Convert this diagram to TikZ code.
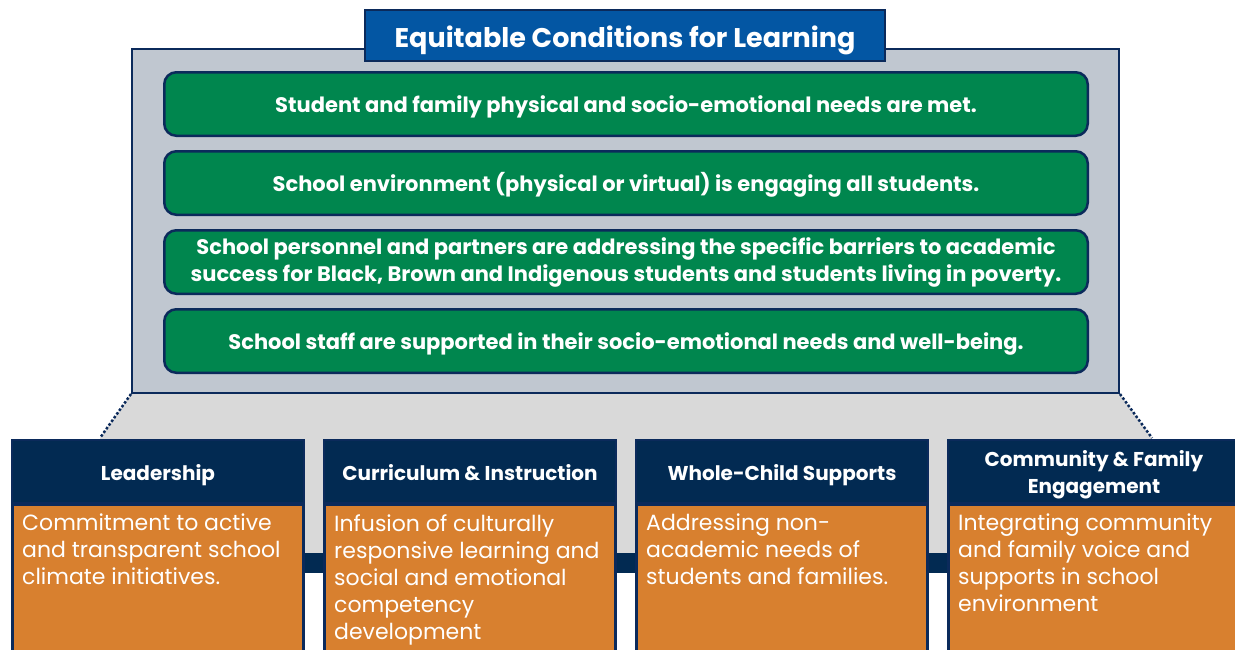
\documentclass[tikz,border=0pt]{standalone}
\usepackage{fontspec}
\setmainfont{Poppins}
\usetikzlibrary{positioning}
\definecolor{navy}{HTML}{0B2A5B}
\definecolor{headnavy}{HTML}{022A52}
\definecolor{titleblue}{HTML}{0356A3}
\definecolor{slate}{HTML}{C0C7D0}
\definecolor{paleg}{HTML}{D9D9D9}
\definecolor{needgreen}{HTML}{00864E}
\definecolor{pillar}{HTML}{D8802F}
\begin{document}
\begin{tikzpicture}[x=1pt,y=-1pt,
  condition/.style={draw=navy,fill=needgreen,line width=2.5pt,rounded corners=12pt,
    minimum width=923.5pt,minimum height=63.5pt,text=white,align=center,
    font=\bfseries\fontsize{21}{27}\selectfont},
  oneline/.style={text height=16pt,text depth=0pt},
  pillarhead/.style={draw=navy,fill=headnavy,line width=2pt,minimum width=292pt,
    minimum height=63pt,text=white,align=center,font=\bfseries\fontsize{20}{27}\selectfont},
  headline/.style={text height=17pt,text depth=0pt},
  pillarbody/.style={draw=navy,fill=pillar,line width=3pt,minimum width=291pt,
    minimum height=160pt},
  pillartext/.style={inner sep=0pt,text=white,align=left,
    font=\fontsize{22}{27}\selectfont}]
\useasboundingbox (0,0) rectangle (1235,649);
\fill[paleg] (131,394) -- (1120,394) -- (1152,438) -- (1152,553) -- (100,553) -- (100,438) -- cycle;
\fill[headnavy] (11,553) rectangle (1235,573);
\node[draw=navy,fill=slate,line width=2pt,minimum width=987pt,minimum height=344pt] (frame) at (625.5,221) {};
\node[draw=navy,fill=titleblue,line width=2pt,minimum width=520pt,minimum height=51pt,
  text height=23pt,text depth=0pt,
  text=white,font=\bfseries\fontsize{27}{32}\selectfont] (title) at (625,35.5) {Equitable Conditions for Learning};
\node[condition,oneline] (needs) at (626,104) {Student and family physical and socio-emotional needs are met.};
\node[condition,oneline,below=13pt of needs] (environ) {School environment (physical or virtual) is engaging all students.};
\node[condition,below=13pt of environ] (barriers) {\rule{0pt}{18pt}School personnel and partners are addressing the specific barriers to academic\\success for Black, Brown and Indigenous students and students living in poverty.};
\node[condition,oneline,below=13pt of barriers] (staff) {School staff are supported in their socio-emotional needs and well-being.};
\coordinate (leftfoot) at (100,438);
\coordinate (rightfoot) at (1152,438);
\draw[navy,dotted,line width=2.5pt] (frame.south west) -- (leftfoot);
\draw[navy,dotted,line width=2.5pt] (frame.south east) -- (rightfoot);
\node[pillarhead,headline,anchor=north west] (hlead) at (11,439) {Leadership};
\node[pillarhead,headline,right=18pt of hlead] (hcurr) {Curriculum \& Instruction};
\node[pillarhead,headline,right=18pt of hcurr] (hwhole) {Whole-Child Supports};
\node[pillarhead,right=18pt of hwhole] (hcomm) {\rule{0pt}{23pt}Community \& Family\\Engagement};
\node[pillarbody,below=-1pt of hlead] (blead) {};
\node[pillarbody,below=-1pt of hcurr] (bcurr) {};
\node[pillarbody,below=-1pt of hwhole] (bwhole) {};
\node[pillarbody,below=-1pt of hcomm] (bcomm) {};
\node[pillartext,below right=11pt and 11pt of blead.north west] (tlead) {Commitment to active\\and transparent school\\climate initiatives.};
\node[pillartext,below right=11pt and 11pt of bcurr.north west] (tcurr) {Infusion of culturally\\responsive learning and\\social and emotional\\competency\\development};
\node[pillartext,below right=11pt and 11pt of bwhole.north west] (twhole) {Addressing non-\\academic needs of\\students and families.};
\node[pillartext,below right=11pt and 11pt of bcomm.north west] (tcomm) {Integrating community\\and family voice and\\supports in school\\environment};
\end{tikzpicture}
\end{document}
